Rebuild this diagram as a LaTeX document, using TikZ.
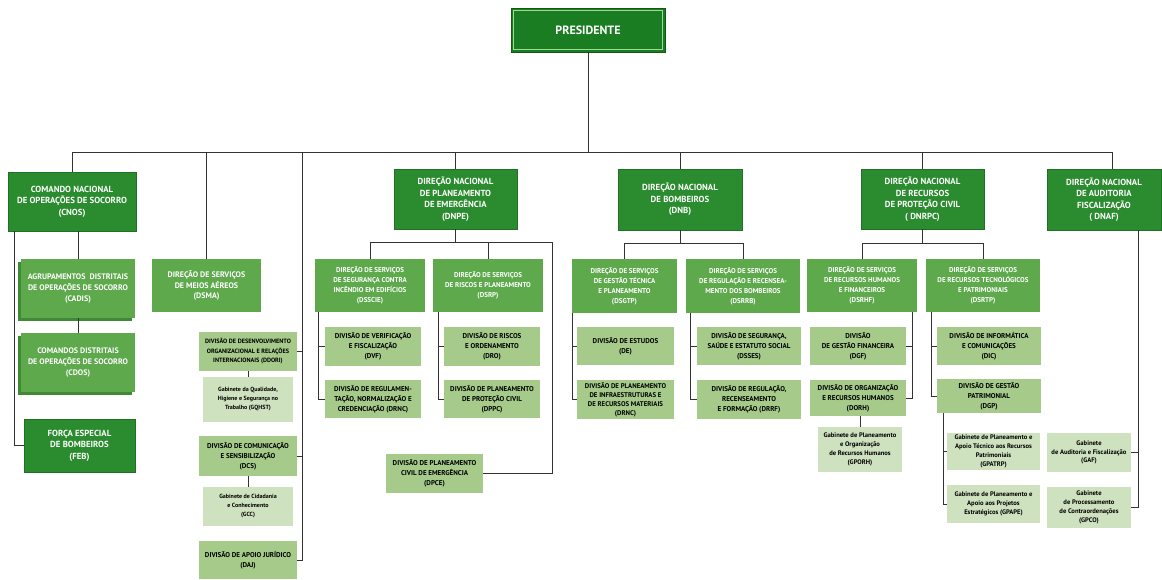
\documentclass[tikz,border=0pt]{standalone}
\usepackage{fontspec}
\setmainfont{PT Sans}
\usetikzlibrary{shadows}
\definecolor{cPres}{HTML}{1B7D22}
\definecolor{cPresL}{HTML}{9BDB95}
\definecolor{cDark}{HTML}{2A8C2E}
\definecolor{cMid}{HTML}{5DA94C}
\definecolor{cMidD}{HTML}{3F8A37}
\definecolor{cLight}{HTML}{A5CA8A}
\definecolor{cPale}{HTML}{CFE2C0}
\definecolor{cLine}{HTML}{333333}
\newcommand\bx[7]{\node[#6, minimum width={(#4-#2)*1pt}, minimum height={(#5-#3)*1pt}] (#1) at ({(#2+#4)/2},{(#3+#5)/2}) {#7};}
\tikzset{
  basebox/.style={inner sep=0pt, align=center, draw=none},
  presbox/.style={basebox, fill=cPres, draw=cPres!70!black, line width=0.6pt, text=white, font=\fontsize{12}{14}\selectfont\bfseries},
  lvlone/.style={basebox, fill=cDark, draw=cDark!80!black, line width=0.5pt, text=white, font=\fontsize{8.8}{11.5}\selectfont\bfseries},
  lvltwo/.style={basebox, fill=cMid, text=white, font=\fontsize{7}{10}\selectfont\bfseries},
  midbig/.style={basebox, fill=cMid, text=white, font=\fontsize{8}{10.5}\selectfont\bfseries},
  stackbox/.style={basebox, fill=cMid, text=white, font=\fontsize{8}{11}\selectfont\bfseries,
     copy shadow={shadow xshift=-3pt, shadow yshift=-3pt, fill=cMidD, draw=none}},
  divbox/.style={basebox, fill=cLight, text=black, font=\fontsize{7}{10}\selectfont\bfseries},
  gabbox/.style={basebox, fill=cPale, text=black, font=\fontsize{6.6}{8.8}\selectfont\bfseries},
  conn/.style={draw=cLine, line width=0.8pt}
}
\begin{document}
\begin{tikzpicture}[x=1pt,y=-1pt]
\useasboundingbox[fill=white] (0,0) rectangle (1162,579);
% president
\bx{pres}{511}{8}{665}{52}{presbox}{PRESIDENTE}
\draw[cPresL, line width=1.2pt] ([shift={(3pt,3pt)}]pres.south west) rectangle ([shift={(-3pt,-3pt)}]pres.north east);
% level one
\bx{cnos}{8}{172}{136}{231}{lvlone}{COMANDO NACIONAL\\DE OPERAÇÕES DE SOCORRO\\(CNOS)}
\bx{dnpe}{394}{169}{517}{229}{lvlone}{DIREÇÃO NACIONAL\\DE PLANEAMENTO\\DE EMERGÊNCIA\\(DNPE)}
\bx{dnb}{618}{169}{742}{230}{lvlone}{DIREÇÃO NACIONAL\\DE BOMBEIROS\\(DNB)}
\bx{dnrpc}{861}{169}{984}{229}{lvlone}{DIREÇÃO NACIONAL\\DE RECURSOS\\DE PROTEÇÃO CIVIL\\( DNRPC)}
\bx{dnaf}{1047}{169}{1161}{230}{lvlone}{DIREÇÃO NACIONAL\\DE AUDITORIA\\FISCALIZAÇÃO\\( DNAF)}
% CNOS branch
\bx{cadis}{21}{259}{135}{318}{stackbox}{AGRUPAMENTOS\ \ DISTRITAIS\\DE OPERAÇÕES DE SOCORRO\\(CADIS)}
\bx{cdos}{21}{333}{135}{392}{stackbox}{COMANDOS DISTRITAIS\\DE OPERAÇÕES DE SOCORRO\\(CDOS)}
\bx{feb}{24}{419}{135}{472}{lvlone}{FORÇA ESPECIAL\\DE BOMBEIROS\\(FEB)}
% DSMA
\bx{dsma}{152}{259}{261}{312}{midbig}{DIREÇÃO DE SERVIÇOS\\DE MEIOS AÉREOS\\(DSMA)}
\bx{ddori}{199}{332}{297}{371}{divbox, font=\fontsize{6.2}{9.5}\selectfont\bfseries}{DIVISÃO DE DESENVOLVIMENTO\\ORGANIZACIONAL E RELAÇÕES\\INTERNACIONAIS (DDORI)}
\bx{gqhst}{203}{377}{293}{422}{gabbox, font=\fontsize{6}{9}\selectfont\bfseries}{Gabinete da Qualidade,\\Higiene e Segurança no\\Trabalho (GQHST)}
\bx{dcs}{199}{436}{297}{476}{divbox}{DIVISÃO DE COMUNICAÇÃO\\E SENSIBILIZAÇÃO\\(DCS)}
\bx{gcc}{203}{487}{293}{526}{gabbox, font=\fontsize{6}{9}\selectfont\bfseries}{Gabinete de Cidadania\\e Conhecimento\\(GCC)}
\bx{daj}{199}{541}{297}{579}{divbox}{DIVISÃO DE APOIO JURÍDICO\\(DAJ)}
% DNPE branch
\bx{dsscie}{315}{259}{425}{312}{lvltwo}{DIREÇÃO DE SERVIÇOS\\DE SEGURANÇA CONTRA\\INCÊNDIO EM EDIFÍCIOS\\(DSSCIE)}
\bx{dsrp}{433}{259}{543}{312}{lvltwo}{DIREÇÃO DE SERVIÇOS\\DE RISCOS E PLANEAMENTO\\(DSRP)}
\bx{dvf}{325}{327}{421}{366}{divbox}{DIVISÃO DE VERIFICAÇÃO\\E FISCALIZAÇÃO\\(DVF)}
\bx{drnc}{325}{380}{421}{418}{divbox}{DIVISÃO DE REGULAMEN-\\TAÇÃO, NORMALIZAÇÃO E\\CREDENCIAÇÃO (DRNC)}
\bx{dro}{444}{327}{540}{366}{divbox}{DIVISÃO DE RISCOS\\E ORDENAMENTO\\(DRO)}
\bx{dppc}{444}{380}{540}{418}{divbox}{DIVISÃO DE PLANEAMENTO\\DE PROTEÇÃO CIVIL\\(DPPC)}
\bx{dpce}{386}{454}{483}{493}{divbox}{DIVISÃO DE PLANEAMENTO\\CIVIL DE EMERGÊNCIA\\(DPCE)}
% DNB branch
\bx{dsgtp}{572}{259}{677}{313}{lvltwo}{DIREÇÃO DE SERVIÇOS\\DE GESTÃO TÉCNICA\\E PLANEAMENTO\\(DSGTP)}
\bx{dsrrb}{686}{259}{800}{313}{lvltwo}{DIREÇÃO DE SERVIÇOS\\DE REGULAÇÃO E RECENSEA-\\MENTO DOS BOMBEIROS\\(DSRRB)}
\bx{de}{577}{327}{674}{365}{divbox}{DIVISÃO DE ESTUDOS\\(DE)}
\bx{dpirm}{577}{380}{674}{419}{divbox, font=\fontsize{6.8}{9}\selectfont\bfseries}{DIVISÃO DE PLANEAMENTO\\DE INFRAESTRUTURAS E\\DE RECURSOS MATERIAIS\\(DRNC)}
\bx{dsses}{697}{327}{801}{365}{divbox}{DIVISÃO DE SEGURANÇA,\\SAÚDE E ESTATUTO SOCIAL\\(DSSES)}
\bx{drrf}{697}{380}{801}{419}{divbox}{DIVISÃO DE REGULAÇÃO,\\RECENSEAMENTO\\E FORMAÇÃO (DRRF)}
% DNRPC branch
\bx{dsrhf}{807}{259}{917}{312}{lvltwo}{DIREÇÃO DE SERVIÇOS\\DE RECURSOS HUMANOS\\E FINANCEIROS\\(DSRHF)}
\bx{dsrtp}{926}{259}{1040}{312}{lvltwo}{DIREÇÃO DE SERVIÇOS\\DE RECURSOS TECNOLÓGICOS\\E PATRIMONIAIS\\(DSRTP)}
\bx{dgf}{810}{327}{906}{365}{divbox}{DIVISÃO\\DE GESTÃO FINANCEIRA\\(DGF)}
\bx{dorh}{810}{380}{906}{416}{divbox}{DIVISÃO DE ORGANIZAÇÃO\\E RECURSOS HUMANOS\\(DORH)}
\bx{gporh}{818}{427}{902}{472}{gabbox}{Gabinete de Planeamento\\e Organização\\de Recursos Humanos\\(GPORH)}
\bx{dic}{937}{327}{1041}{365}{divbox}{DIVISÃO DE INFORMÁTICA\\E COMUNICAÇÕES\\(DIC)}
\bx{dgp}{937}{379}{1041}{413}{divbox}{DIVISÃO DE GESTÃO\\PATRIMONIAL\\(DGP)}
\bx{gpatrp}{947}{433}{1040}{470}{gabbox}{Gabinete de Planeamento e\\Apoio Técnico aos Recursos\\Patrimoniais\\(GPATRP)}
\bx{gpape}{947}{485}{1040}{523}{gabbox}{Gabinete de Planeamento e\\Apoio aos Projetos\\Estratégicos (GPAPE)}
% DNAF branch
\bx{gaf}{1047}{433}{1131}{472}{gabbox}{Gabinete\\de Auditoria e Fiscalização\\(GAF)}
\bx{gpco}{1047}{487}{1131}{528}{gabbox}{Gabinete\\de Processamento\\de Contraordenações\\(GPCO)}
% ---------- connectors
\coordinate (busY) at (0,152);
\coordinate (busR) at (1112,152);
\coordinate (vL) at (302,152);
\draw[conn] (pres.south) -- (pres.south |- busY);
\draw[conn] (cnos.north |- busY) -- (busR);
\draw[conn] (cnos.north) -- (cnos.north |- busY);
\draw[conn] (dsma.north) -- (dsma.north |- busY);
\draw[conn] (dnpe.north) -- (dnpe.north |- busY);
\draw[conn] (dnb.north) -- (dnb.north |- busY);
\draw[conn] (dnrpc.north) -- (dnrpc.north |- busY);
\draw[conn] (busR) -- (busR |- dnaf.north);
% CNOS
\draw[conn] ([xshift=7pt]cnos.south west) |- (feb.west);
\draw[conn] (cadis.north) -- (cadis.north |- cnos.south);
\draw[conn] (cdos.north) -- (cdos.north |- cadis.south);
% DSMA side line
\draw[conn] (vL) |- (daj.east);
\draw[conn] (vL |- ddori.east) -- (ddori.east);
\draw[conn] (vL |- dcs.east) -- (dcs.east);
\draw[conn] (gqhst.north) -- (gqhst.north |- ddori.south);
\draw[conn] (gcc.north) -- (gcc.north |- dcs.south);
% DNPE
\coordinate (npY) at (0,242);
\coordinate (npR) at (552,242);
\draw[conn] (dnpe.south) -- (dnpe.south |- npY);
\draw[conn] (dsscie.north) -- (dsscie.north |- npY) -- (npR) |- (dpce.east);
\draw[conn] (dsrp.north) -- (dsrp.north |- npY);
\draw[conn] ([xshift=4pt]dsscie.south west) |- (dvf.west);
\draw[conn] ([xshift=4pt]dsscie.south west) |- (drnc.west);
\draw[conn] ([xshift=6pt]dsrp.south west) |- (dro.west);
\draw[conn] ([xshift=6pt]dsrp.south west) |- (dppc.west);
% DNB
\coordinate (nbY) at (0,243);
\draw[conn] (dnb.south) -- (dnb.south |- nbY);
\draw[conn] (dsgtp.north) -- (dsgtp.north |- nbY) -- (dsrrb.north |- nbY) -- (dsrrb.north);
\draw[conn] ([xshift=1pt]dsgtp.south west) |- (de.west);
\draw[conn] ([xshift=1pt]dsgtp.south west) |- (dpirm.west);
\draw[conn] ([xshift=5pt]dsrrb.south west) |- (dsses.west);
\draw[conn] ([xshift=5pt]dsrrb.south west) |- (drrf.west);
% DNRPC
\draw[conn] (dnrpc.south) -- (dnrpc.south |- nbY);
\draw[conn] (dsrhf.north) -- (dsrhf.north |- nbY) -- (dsrtp.north |- nbY) -- (dsrtp.north);
\draw[conn] ([xshift=-5pt]dsrhf.south east) |- (dgf.east);
\draw[conn] ([xshift=-5pt]dsrhf.south east) |- (dorh.east);
\draw[conn] (gporh.north) -- (gporh.north |- dorh.south);
\draw[conn] ([xshift=6pt]dsrtp.south west) |- (dic.west);
\draw[conn] ([xshift=6pt]dsrtp.south west) |- (dgp.west);
\draw[conn] ([xshift=7pt]dgp.south west) |- (gpatrp.west);
\draw[conn] ([xshift=7pt]dgp.south west) |- (gpape.west);
% DNAF
\draw[conn] ([xshift=-23pt]dnaf.south east) |- (gaf.east);
\draw[conn] ([xshift=-23pt]dnaf.south east) |- (gpco.east);
\end{tikzpicture}
\end{document}
